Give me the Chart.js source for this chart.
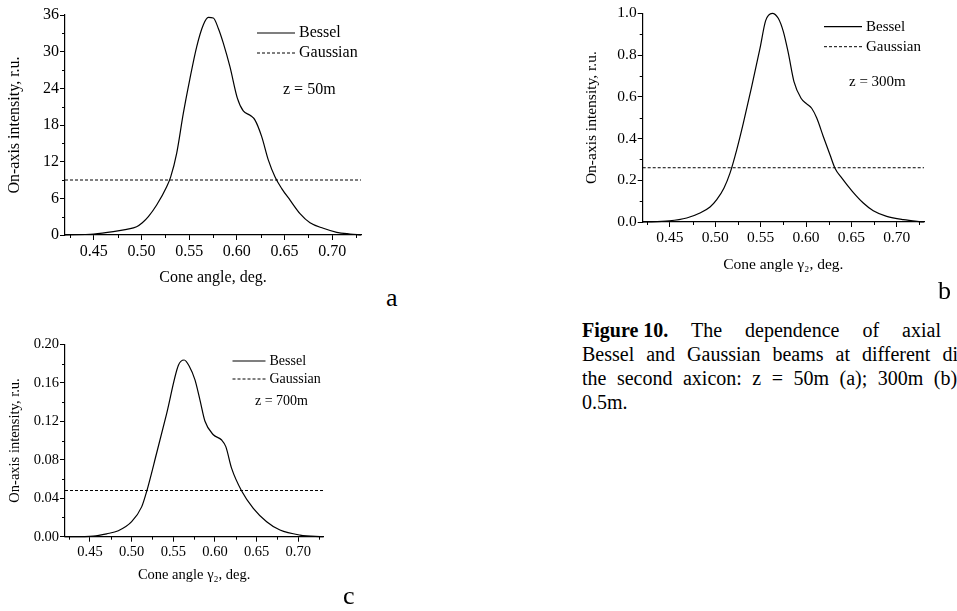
<!DOCTYPE html>
<html>
<head>
<meta charset="utf-8">
<script src="https://cdn.jsdelivr.net/npm/chart.js@4.4.0/dist/chart.umd.min.js"></script>
<style>
  html, body { margin: 0; padding: 0; background: #fff; }
  body { width: 957px; height: 611px; position: relative; overflow: hidden;
         font-family: 'Liberation Serif', 'Times New Roman', serif; color: #000; }
  .panel { position: absolute; }
  .tag { position: absolute; font-size: 26px; line-height: 26px; }
  .cap { position: absolute; left: 582px; font-size: 20px; line-height: 24px; white-space: nowrap; }
  .cap b { word-spacing: normal; }
</style>
</head>
<body>
<div class="panel" style="left:0;top:0"><canvas id="chartA" width="380" height="300"></canvas></div>
<div class="panel" style="left:572px;top:0"><canvas id="chartB" width="385" height="300"></canvas></div>
<div class="panel" style="left:0;top:330px"><canvas id="chartC" width="380" height="270"></canvas></div>

<div class="tag" style="left:386px;top:285px">a</div>
<div class="tag" style="left:938px;top:278px">b</div>
<div class="tag" style="left:343px;top:583px">c</div>

<div class="cap" style="top:318px;word-spacing:18px"><b>Figure 10.</b> The dependence of axial intensity of</div>
<div class="cap" style="top:342px;word-spacing:7px">Bessel and Gaussian beams at different distances from</div>
<div class="cap" style="top:366px;word-spacing:5.5px">the second axicon: z = 50m (a); 300m (b); 700m (c),</div>
<div class="cap" style="top:390px">0.5m.</div>

<script>
// ---------------- data ----------------
const X_MIN = 0.42;
const X_MAX = 0.73;
const X_TICKS = [0.45, 0.50, 0.55, 0.60, 0.65, 0.70];

// panel a, z = 50m
const ANGLE_A = [0.42, 0.45, 0.4706, 0.4846, 0.495, 0.501, 0.5073, 0.516, 0.5265, 0.5307, 0.537, 0.5439,
  0.5506, 0.5579, 0.5649, 0.5701, 0.5753, 0.5806, 0.5858, 0.5928, 0.6005, 0.6067, 0.6138, 0.619,
  0.626, 0.6329, 0.64, 0.647, 0.6557, 0.6661, 0.6766, 0.6905, 0.7046, 0.7185, 0.73];
const BESSEL_A = [0, 0.16, 0.55, 0.93, 1.36, 2.0, 3.0, 4.9, 7.9, 9.5, 13.4, 19.9,
  25.4, 30.8, 34.4, 35.6, 35.5, 33.8, 31.4, 27.5, 22.4, 20.3, 19.6, 18.8,
  16.1, 12.3, 9.5, 7.6, 5.7, 3.5, 2.0, 1.1, 0.44, 0.16, 0];
const GAUSS_A = 9.0;
const Y_TICKS_A = [0, 6, 12, 18, 24, 30, 36];

// panel b, z = 300m
const ANGLE_B = [0.42, 0.4493, 0.4685, 0.4831, 0.4942, 0.5016, 0.5096, 0.5162, 0.5236, 0.5309, 0.5401,
  0.5493, 0.5555, 0.5628, 0.5694, 0.575, 0.5805, 0.5867, 0.5945, 0.6007, 0.6062, 0.6118, 0.619,
  0.6264, 0.6319, 0.6393, 0.651, 0.6631, 0.6741, 0.6889, 0.7072, 0.73];
const BESSEL_B = [0, 0.005, 0.019, 0.043, 0.072, 0.107, 0.163, 0.234, 0.346, 0.474, 0.649,
  0.833, 0.965, 1.0, 0.976, 0.912, 0.809, 0.673, 0.593, 0.566, 0.545, 0.498, 0.41,
  0.322, 0.258, 0.211, 0.147, 0.091, 0.054, 0.027, 0.011, 0];
const GAUSS_B = 0.26;
const Y_TICKS_B = [0, 0.2, 0.4, 0.6, 0.8, 1.0];

// panel c, z = 700m
const ANGLE_C = [0.42, 0.454, 0.47, 0.484, 0.50, 0.512, 0.518, 0.53, 0.542, 0.556, 0.563, 0.569,
  0.576, 0.582, 0.588, 0.598, 0.608, 0.613, 0.62, 0.632, 0.646, 0.662, 0.678, 0.702, 0.73];
const BESSEL_C = [0, 0.0007, 0.003, 0.0062, 0.0156, 0.031, 0.047, 0.087, 0.128, 0.178, 0.1837, 0.1775,
  0.163, 0.142, 0.12, 0.106, 0.1005, 0.0936, 0.071, 0.0475, 0.0295, 0.0156, 0.0069, 0.0017, 0];
const GAUSS_C = 0.048;
const Y_TICKS_C = [0, 0.04, 0.08, 0.12, 0.16, 0.20];

const FONT = 'Liberation Serif';

// small ticks between the labelled ones, plus legend and z note
function minorValues(scale, step) {
  const out = [];
  const majors = scale.ticks.map(t => t.value);
  for (let k = Math.ceil(scale.min / step - 1e-6); k * step <= scale.max + 1e-9; k++) {
    const v = k * step;
    if (!majors.some(m => Math.abs(m - v) < step / 10)) out.push(v);
  }
  return out;
}

const figureDecor = {
  id: 'figureDecor',
  afterDraw(chart, args, o) {
    const ctx = chart.ctx;
    const area = chart.chartArea;
    const xs = chart.scales.x, ys = chart.scales.y;
    ctx.save();
    ctx.strokeStyle = '#000';
    ctx.fillStyle = '#000';
    ctx.lineWidth = 1;
    ctx.beginPath();
    minorValues(xs, o.xMinor).forEach(v => {
      const px = Math.round(xs.getPixelForValue(v)) + 0.5;
      ctx.moveTo(px, area.bottom);
      ctx.lineTo(px, area.bottom + 3);
    });
    minorValues(ys, o.yMinor).forEach(v => {
      const py = Math.round(ys.getPixelForValue(v)) + 0.5;
      ctx.moveTo(area.left - 3, py);
      ctx.lineTo(area.left, py);
    });
    ctx.stroke();

    ctx.font = o.fontSize + 'px "' + FONT + '"';
    ctx.textBaseline = 'middle';
    chart.data.datasets.forEach((ds, i) => {
      const y = o.legendY + i * o.legendGap;
      ctx.setLineDash(ds.borderDash || []);
      ctx.lineWidth = ds.borderWidth;
      ctx.beginPath();
      ctx.moveTo(o.legendX, y);
      ctx.lineTo(o.legendX + o.legendLen, y);
      ctx.stroke();
      ctx.setLineDash([]);
      ctx.fillText(ds.label, o.legendX + o.legendLen + 4, y);
    });
    ctx.fillText(o.note, o.noteX, o.noteY);
    ctx.restore();
  }
};

function makeChart(id, p) {
  const font = { family: FONT, size: p.fontSize };
  return new Chart(document.getElementById(id), {
    type: 'scatter',
    data: {
      datasets: [
        {
          label: 'Bessel',
          data: p.angle.map((a, i) => ({ x: a, y: p.bessel[i] })),
          showLine: true, borderColor: '#000', borderWidth: 1.2, pointRadius: 0,
          cubicInterpolationMode: 'monotone', clip: false
        },
        {
          label: 'Gaussian',
          data: [{ x: X_MIN, y: p.gauss }, { x: X_MAX, y: p.gauss }],
          showLine: true, borderColor: '#000', borderWidth: 1, borderDash: [3, 2], pointRadius: 0
        }
      ]
    },
    options: {
      responsive: false,
      animation: false,
      layout: { padding: p.pad },
      plugins: {
        legend: { display: false },
        tooltip: { enabled: false },
        figureDecor: p.decor
      },
      scales: {
        x: {
          type: 'linear', min: X_MIN, max: X_MAX,
          afterBuildTicks: s => { s.ticks = X_TICKS.map(v => ({ value: v })); },
          afterFit: s => { s.height = p.xAxisH; },
          grid: { drawOnChartArea: false, drawTicks: true, tickLength: 5, color: '#000' },
          border: { display: true, color: '#000', width: 1.2 },
          ticks: { color: '#000', font: font, padding: 2, maxRotation: 0, autoSkip: false,
                   callback: v => v.toFixed(2) },
          title: { display: true, text: p.xTitle, color: '#000', font: font,
                   padding: { top: 0, bottom: p.xTitlePad } }
        },
        y: {
          type: 'linear', min: p.yTicks[0], max: p.yTicks[p.yTicks.length - 1],
          afterBuildTicks: s => { s.ticks = p.yTicks.map(v => ({ value: v })); },
          afterFit: s => { s.width = p.yAxisW; },
          grid: { drawOnChartArea: false, drawTicks: true, tickLength: 5, color: '#000' },
          border: { display: true, color: '#000', width: 1.2 },
          ticks: { color: '#000', font: font, padding: 1, autoSkip: false,
                   callback: v => v.toFixed(p.yDec) },
          title: { display: true, text: 'On-axis intensity, r.u.', color: '#000', font: font,
                   padding: { top: p.yTitlePad, bottom: 0 } }
        }
      }
    },
    plugins: [figureDecor]
  });
}

makeChart('chartA', {
  angle: ANGLE_A, bessel: BESSEL_A, gauss: GAUSS_A, yTicks: Y_TICKS_A, yDec: 0,
  fontSize: 16, pad: { top: 15, right: 19, left: 0, bottom: 0 },
  xAxisH: 65, yAxisW: 65, xTitlePad: 12.4, yTitlePad: 5.4,
  xTitle: 'Cone angle, deg.',
  decor: { xMinor: 0.025, yMinor: 3, fontSize: 16, legendX: 257, legendY: 33, legendGap: 20,
           legendLen: 38, note: 'z = 50m', noteX: 283, noteY: 90 }
});

makeChart('chartB', {
  angle: ANGLE_B, bessel: BESSEL_B, gauss: GAUSS_B, yTicks: Y_TICKS_B, yDec: 1,
  fontSize: 15.5, pad: { top: 13.3, right: 33, left: 0, bottom: 0 },
  xAxisH: 78, yAxisW: 70.7, xTitlePad: 25.4, yTitlePad: 10.4,
  xTitle: 'Cone angle γ₂, deg.',
  decor: { xMinor: 0.025, yMinor: 0.1, fontSize: 15, legendX: 252, legendY: 26.7, legendGap: 20,
           legendLen: 38, note: 'z = 300m', noteX: 277, noteY: 81.7 }
});

makeChart('chartC', {
  angle: ANGLE_C, bessel: BESSEL_C, gauss: GAUSS_C, yTicks: Y_TICKS_C, yDec: 2,
  fontSize: 14.5, pad: { top: 14.3, right: 56.7, left: 0, bottom: 0 },
  xAxisH: 63.3, yAxisW: 65, xTitlePad: 16.3, yTitlePad: 6.3,
  xTitle: 'Cone angle γ₂, deg.',
  decor: { xMinor: 0.025, yMinor: 0.02, fontSize: 14, legendX: 232.5, legendY: 31, legendGap: 18,
           legendLen: 33, note: 'z = 700m', noteX: 255, noteY: 71 }
});
</script>
</body>
</html>
